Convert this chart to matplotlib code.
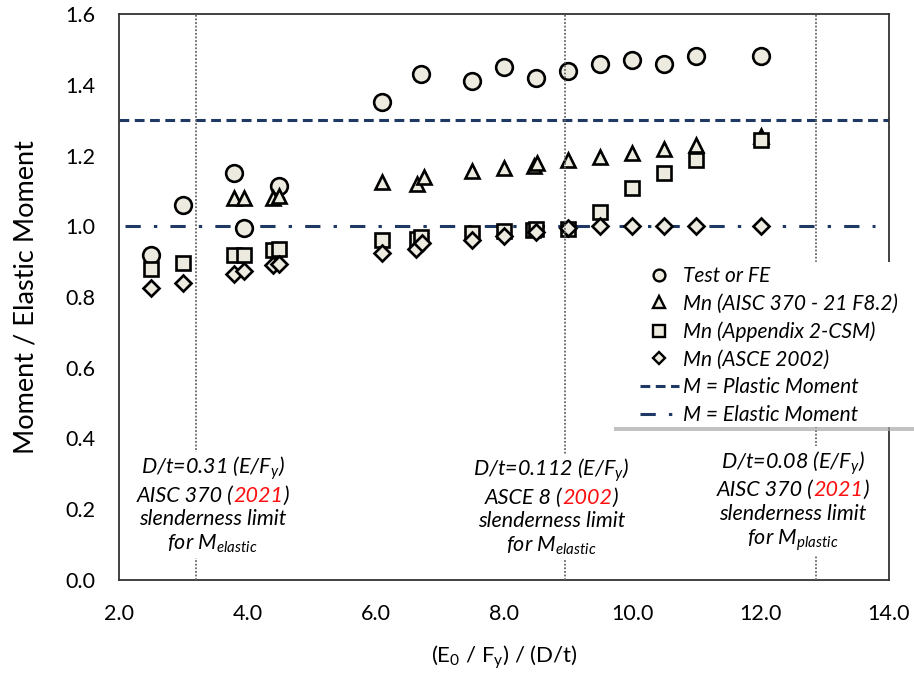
import numpy as np
import matplotlib
matplotlib.use("Agg")
import matplotlib.pyplot as plt
from matplotlib.lines import Line2D
from matplotlib.patches import Rectangle
from matplotlib.offsetbox import TextArea, HPacker, VPacker, AnnotationBbox

plt.rcParams['font.family'] = ['Lato', 'DejaVu Sans']
plt.rcParams['mathtext.fontset'] = 'custom'
plt.rcParams['mathtext.rm'] = 'Lato'
plt.rcParams['mathtext.it'] = 'Lato:italic'

# Test or FE results
test_x = [2.5, 3.0, 3.8, 3.95, 4.5, 6.1, 6.7, 7.5, 8.0, 8.5, 9.0, 9.5, 10.0, 10.5, 11.0, 12.0]
test_y = [0.92, 1.06, 1.15, 0.995, 1.115, 1.35, 1.43, 1.41, 1.45, 1.42, 1.44, 1.46, 1.47, 1.46, 1.48, 1.48]

# Mn (AISC 370 - 21 F8.2)
aisc_x = [3.8, 3.95, 4.4, 4.5, 6.1, 6.65, 6.75, 7.5, 8.0, 8.47, 8.52, 9.0, 9.5, 10.0, 10.5, 11.0, 12.0]
aisc_y = [1.08, 1.08, 1.08, 1.085, 1.125, 1.12, 1.14, 1.155, 1.165, 1.17, 1.178, 1.187, 1.197, 1.208, 1.218, 1.23, 1.255]

# Mn (Appendix 2-CSM)
csm_x = [2.5, 3.0, 3.8, 3.95, 4.4, 4.5, 6.1, 6.65, 6.7, 7.5, 8.0, 8.45, 8.5, 9.0, 9.5, 10.0, 10.5, 11.0, 12.0]
csm_y = [0.88, 0.897, 0.92, 0.92, 0.933, 0.935, 0.96, 0.965, 0.97, 0.982, 0.987, 0.99, 0.992, 0.993, 1.041, 1.107, 1.151, 1.187, 1.245]

# Mn (ASCE 2002)
asce_x = [2.5, 3.0, 3.8, 3.95, 4.4, 4.5, 6.1, 6.63, 6.72, 7.5, 8.0, 8.5, 9.0, 9.5, 10.0, 10.5, 11.0, 12.0]
asce_y = [0.826, 0.839, 0.864, 0.873, 0.89, 0.893, 0.924, 0.935, 0.953, 0.961, 0.972, 0.985, 0.994, 1.0, 1.0, 1.0, 1.0, 1.0]

m_plastic = 1.3
m_elastic = 1.0
limits = [3.2, 8.95, 12.86]  # slenderness limits (E0/Fy)/(D/t)

fill = '#EDEBDF'
navy = '#1F3864'

fig = plt.figure(figsize=(9.14, 6.74), dpi=100)
ax = fig.add_axes([0.1302, 0.1395, 0.8424, 0.8397])

ax.axhline(m_plastic, color=navy, lw=2.2, ls=(0, (3.2, 1.8)), zorder=1)
ax.plot([2.1, 13.78], [m_elastic, m_elastic], color=navy, lw=2.2,
        ls=(0, (5, 4.3, 1.1, 4.3)), zorder=1)

mk = dict(ls='none', mfc=fill, mec='black', mew=1.9, zorder=3)
ax.plot(test_x, test_y, marker='o', ms=12, **mk)
ax.plot(aisc_x, aisc_y, marker='^', ms=10, **mk)
ax.plot(csm_x, csm_y, marker='s', ms=9.5, **mk)
ax.plot(asce_x, asce_y, marker='D', ms=8.3, **mk)

for xv in limits:
    ax.axvline(xv, color='#666666', lw=1.3, ls=(0, (1, 1)), zorder=4)

ax.set_xlim(2, 14)
ax.set_ylim(0, 1.6)
ax.set_xticks(np.arange(2, 14.1, 2))
ax.set_yticks(np.arange(0, 1.61, 0.2))
ax.xaxis.set_major_formatter(plt.FormatStrFormatter('%.1f'))
ax.yaxis.set_major_formatter(plt.FormatStrFormatter('%.1f'))
ax.tick_params(length=0, pad=17, labelsize=15.5)
for s in ax.spines.values():
    s.set_color('#333333')
    s.set_linewidth(1.3)

ax.set_xlabel(r'(E$\mathrm{_0}$ / F$\mathrm{_y}$) / (D/t)', fontsize=16, labelpad=14)
ax.set_ylabel('Moment / Elastic Moment', fontsize=19.5, labelpad=19)


def note(x, y, lines):
    rows = []
    for parts in lines:
        areas = [TextArea(s, textprops=dict(color=c, fontsize=15.5, style='italic'))
                 for s, c in parts]
        rows.append(HPacker(children=areas, align='baseline', pad=0, sep=0))
    box = VPacker(children=rows, align='center', pad=0, sep=2.5)
    ab = AnnotationBbox(box, (x, y), xycoords=('data', 'axes fraction'),
                        frameon=True, pad=0.2,
                        bboxprops=dict(fc='white', ec='none'), zorder=5)
    ax.add_artist(ab)


k = 'black'
r = '#FF1010'
note(3.46, 0.1325, [[('D/t=0.31 (E/F$_y$)', k)],
                    [('AISC 370 (', k), ('2021', r), (')', k)],
                    [('slenderness limit', k)],
                    [('for M$_{elastic}$', k)]])
note(8.74, 0.129, [[('D/t=0.112 (E/F$_y$)', k)],
                   [('ASCE 8 (', k), ('2002', r), (')', k)],
                   [('slenderness limit', k)],
                   [('for M$_{elastic}$', k)]])
note(12.5, 0.1396, [[('D/t=0.08 (E/F$_y$)', k)],
                    [('AISC 370 (', k), ('2021', r), (')', k)],
                    [('slenderness limit', k)],
                    [('for M$_{plastic}$', k)]])

# legend frame with a soft shadow, drawn in figure pixels
W, H = 914, 674
fig.patches.append(Rectangle((614 / W, 1 - 431 / H), 300 / W, 166 / H,
                             transform=fig.transFigure, fc='#A8A8A8', ec='none',
                             alpha=0.7, zorder=8))
fig.patches.append(Rectangle((610 / W, 1 - 427 / H), 304 / W, 165 / H,
                             transform=fig.transFigure, fc='white', ec='none', zorder=9))

hm = dict(ls='none', mfc=fill, mec='black', mew=1.7)
handles = [
    Line2D([], [], marker='o', ms=8.5, **hm),
    Line2D([], [], marker='^', ms=8, **hm),
    Line2D([], [], marker='s', ms=8, **hm),
    Line2D([], [], marker='D', ms=6, **hm),
    Line2D([], [], color=navy, lw=2.2, ls=(0, (3.2, 1.8))),
    Line2D([], [], color=navy, lw=2.2, ls=(0, (5, 4.3, 1.1, 4.3))),
]
labels = ['Test or FE', 'Mn (AISC 370 - 21 F8.2)', 'Mn (Appendix 2-CSM)',
          'Mn (ASCE 2002)', 'M = Plastic Moment', 'M = Elastic Moment']
leg = fig.legend(handles, labels, loc='upper left', bbox_to_anchor=(640 / W, 1 - 266 / H),
                 bbox_transform=fig.transFigure, borderaxespad=0, borderpad=0,
                 prop=dict(size=15, style='italic'), handlelength=1.85,
                 handletextpad=0.2, labelspacing=0.37, frameon=False)
leg.set_zorder(10)

fig.savefig('out.png', dpi=100)
